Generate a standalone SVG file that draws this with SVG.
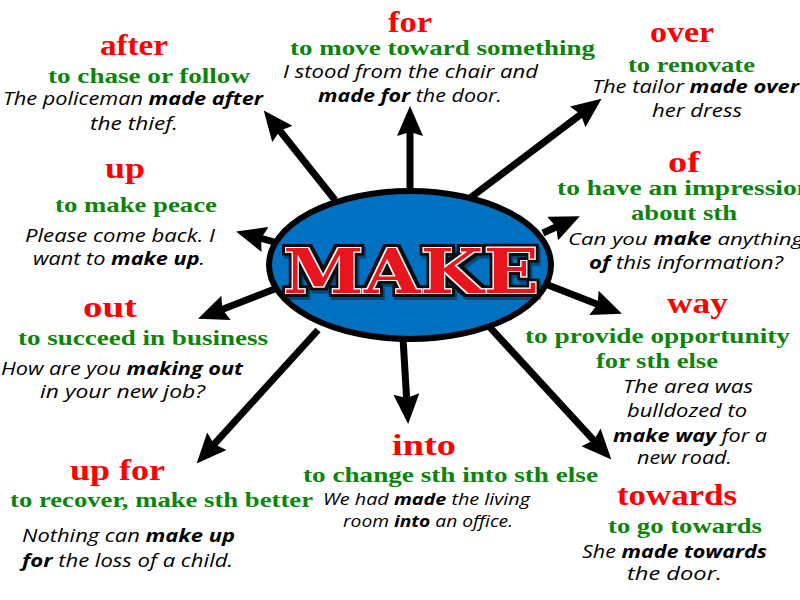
<svg xmlns="http://www.w3.org/2000/svg" width="800" height="600" viewBox="0 0 800 600">
<defs>
<style>
.h{font-family:"Liberation Serif","DejaVu Serif",serif;font-weight:bold;font-size:29px;fill:#FF0000}
.g{font-family:"Liberation Serif","DejaVu Serif",serif;font-weight:bold;font-size:22px;fill:#0A850A}
.e{font-family:"Open Sans","Liberation Sans",sans-serif;font-style:italic;font-size:18px;fill:#000}
.s{font-size:16px}
.m{font-size:17px}
.b{font-weight:bold}
.conn line{stroke:#000;stroke-width:7;marker-end:url(#ah)}
.mk{font-family:"DejaVu Serif","Liberation Serif",serif;font-weight:bold;font-size:61px;fill:#E8141E}
</style>
<marker id="ah" markerUnits="userSpaceOnUse" markerWidth="30" markerHeight="26" viewBox="0 0 30 26" refX="14" refY="13" orient="auto">
<path d="M0,0 L30,13 L0,26 L4,13 z" fill="#000"/>
</marker>
<filter id="mkf" x="-10%" y="-30%" width="120%" height="160%">
<feMorphology in="SourceAlpha" operator="dilate" radius="3.5" result="d1"/>
<feFlood flood-color="#111"/>
<feComposite in2="d1" operator="in" result="black"/>
<feOffset in="black" dx="2" dy="3" result="sh0"/>
<feFlood flood-color="#000" flood-opacity="0.35"/>
<feComposite in2="sh0" operator="in" result="sh"/>
<feMorphology in="SourceAlpha" operator="dilate" radius="1.3" result="d2"/>
<feFlood flood-color="#ffffff"/>
<feComposite in2="d2" operator="in" result="white"/>
<feMerge>
<feMergeNode in="sh"/>
<feMergeNode in="black"/>
<feMergeNode in="white"/>
<feMergeNode in="SourceGraphic"/>
</feMerge>
</filter>
</defs>
<rect width="800" height="600" fill="#fff"/>
<g id="connectors" class="conn">
<line x1="335" y1="200" x2="273.7" y2="123"/>
<line x1="410" y1="190" x2="410" y2="122"/>
<line x1="470" y1="198" x2="588.8" y2="108.4"/>
<line x1="543" y1="233" x2="565.3" y2="222.8"/>
<line x1="285" y1="245" x2="251.5" y2="235.7"/>
<line x1="285" y1="285" x2="213" y2="312.9"/>
<line x1="548" y1="285" x2="607" y2="307.9"/>
<line x1="318" y1="330" x2="207.4" y2="451.6"/>
<line x1="403" y1="338" x2="407.2" y2="408"/>
<line x1="485" y1="322" x2="600.5" y2="447.7"/>
</g>
<g id="center">
<ellipse cx="410" cy="265" rx="141" ry="74" fill="#0070C0" stroke="#000" stroke-width="6"/>
<text class="mk" x="283" y="293" textLength="256" lengthAdjust="spacingAndGlyphs" filter="url(#mkf)">MAKE</text>
</g>
<g id="after">
<text class="h" x="100" y="55" textLength="68" lengthAdjust="spacingAndGlyphs">after</text>
<text class="g" x="48" y="83" textLength="202" lengthAdjust="spacingAndGlyphs">to chase or follow</text>
<text class="e" x="3" y="105" textLength="260" lengthAdjust="spacingAndGlyphs">The policeman <tspan class="b">made after</tspan></text>
<text class="e" x="90" y="130" textLength="88" lengthAdjust="spacingAndGlyphs">the thief.</text>
</g>
<g id="for">
<text class="h" x="388" y="32" textLength="44" lengthAdjust="spacingAndGlyphs">for</text>
<text class="g" x="290" y="55" textLength="305" lengthAdjust="spacingAndGlyphs">to move toward something</text>
<text class="e" x="283" y="78" textLength="255" lengthAdjust="spacingAndGlyphs">I stood from the chair and</text>
<text class="e" x="318" y="102" textLength="184" lengthAdjust="spacingAndGlyphs"><tspan class="b">made for</tspan> the door.</text>
</g>
<g id="over">
<text class="h" x="650" y="42" textLength="64" lengthAdjust="spacingAndGlyphs">over</text>
<text class="g" x="628" y="72" textLength="127" lengthAdjust="spacingAndGlyphs">to renovate</text>
<text class="e" x="592" y="93" textLength="207" lengthAdjust="spacingAndGlyphs">The tailor <tspan class="b">made over</tspan></text>
<text class="e" x="652" y="117" textLength="90" lengthAdjust="spacingAndGlyphs">her dress</text>
</g>
<g id="of">
<text class="h" x="668" y="172" textLength="32" lengthAdjust="spacingAndGlyphs">of</text>
<text class="g" x="557" y="195" textLength="255" lengthAdjust="spacingAndGlyphs">to have an impression</text>
<text class="g" x="631" y="220" textLength="106" lengthAdjust="spacingAndGlyphs">about sth</text>
<text class="e m" x="568" y="245" textLength="235" lengthAdjust="spacingAndGlyphs">Can you <tspan class="b">make</tspan> anything</text>
<text class="e" x="589" y="269" textLength="194" lengthAdjust="spacingAndGlyphs"><tspan class="b">of</tspan> this information?</text>
</g>
<g id="up">
<text class="h" x="105" y="178" textLength="40" lengthAdjust="spacingAndGlyphs">up</text>
<text class="g" x="55" y="212" textLength="162" lengthAdjust="spacingAndGlyphs">to make peace</text>
<text class="e" x="25" y="242" textLength="190" lengthAdjust="spacingAndGlyphs">Please come back. I</text>
<text class="e" x="33" y="265" textLength="172" lengthAdjust="spacingAndGlyphs">want to <tspan class="b">make up</tspan>.</text>
</g>
<g id="out">
<text class="h" x="83" y="317" textLength="54" lengthAdjust="spacingAndGlyphs">out</text>
<text class="g" x="18" y="345" textLength="250" lengthAdjust="spacingAndGlyphs">to succeed in business</text>
<text class="e" x="1" y="375" textLength="242" lengthAdjust="spacingAndGlyphs">How are you <tspan class="b">making out</tspan></text>
<text class="e" x="40" y="398" textLength="165" lengthAdjust="spacingAndGlyphs">in your new job?</text>
</g>
<g id="way">
<text class="h" x="667" y="313" textLength="61" lengthAdjust="spacingAndGlyphs">way</text>
<text class="g" x="525" y="343" textLength="265" lengthAdjust="spacingAndGlyphs">to provide opportunity</text>
<text class="g" x="596" y="368" textLength="122" lengthAdjust="spacingAndGlyphs">for sth else</text>
<text class="e" x="623" y="393" textLength="130" lengthAdjust="spacingAndGlyphs">The area was</text>
<text class="e" x="627" y="417" textLength="120" lengthAdjust="spacingAndGlyphs">bulldozed to</text>
<text class="e" x="613" y="442" textLength="154" lengthAdjust="spacingAndGlyphs"><tspan class="b">make way</tspan> for a</text>
<text class="e" x="637" y="464" textLength="95" lengthAdjust="spacingAndGlyphs">new road.</text>
</g>
<g id="upfor">
<text class="h" x="70" y="480" textLength="95" lengthAdjust="spacingAndGlyphs">up for</text>
<text class="g" x="10" y="507" textLength="303" lengthAdjust="spacingAndGlyphs">to recover, make sth better</text>
<text class="e" x="22" y="542" textLength="213" lengthAdjust="spacingAndGlyphs">Nothing can <tspan class="b">make up</tspan></text>
<text class="e" x="22" y="567" textLength="211" lengthAdjust="spacingAndGlyphs"><tspan class="b">for</tspan> the loss of a child.</text>
</g>
<g id="into">
<text class="h" x="392" y="455" textLength="64" lengthAdjust="spacingAndGlyphs">into</text>
<text class="g" x="303" y="482" textLength="295" lengthAdjust="spacingAndGlyphs">to change sth into sth else</text>
<text class="e s" x="323" y="505" textLength="207" lengthAdjust="spacingAndGlyphs">We had <tspan class="b">made</tspan> the living</text>
<text class="e s" x="343" y="527" textLength="170" lengthAdjust="spacingAndGlyphs">room <tspan class="b">into</tspan> an office.</text>
</g>
<g id="towards">
<text class="h" x="617" y="505" textLength="120" lengthAdjust="spacingAndGlyphs">towards</text>
<text class="g" x="608" y="533" textLength="154" lengthAdjust="spacingAndGlyphs">to go towards</text>
<text class="e" x="582" y="558" textLength="185" lengthAdjust="spacingAndGlyphs">She <tspan class="b">made towards</tspan></text>
<text class="e" x="627" y="580" textLength="95" lengthAdjust="spacingAndGlyphs">the door.</text>
</g>
</svg>
